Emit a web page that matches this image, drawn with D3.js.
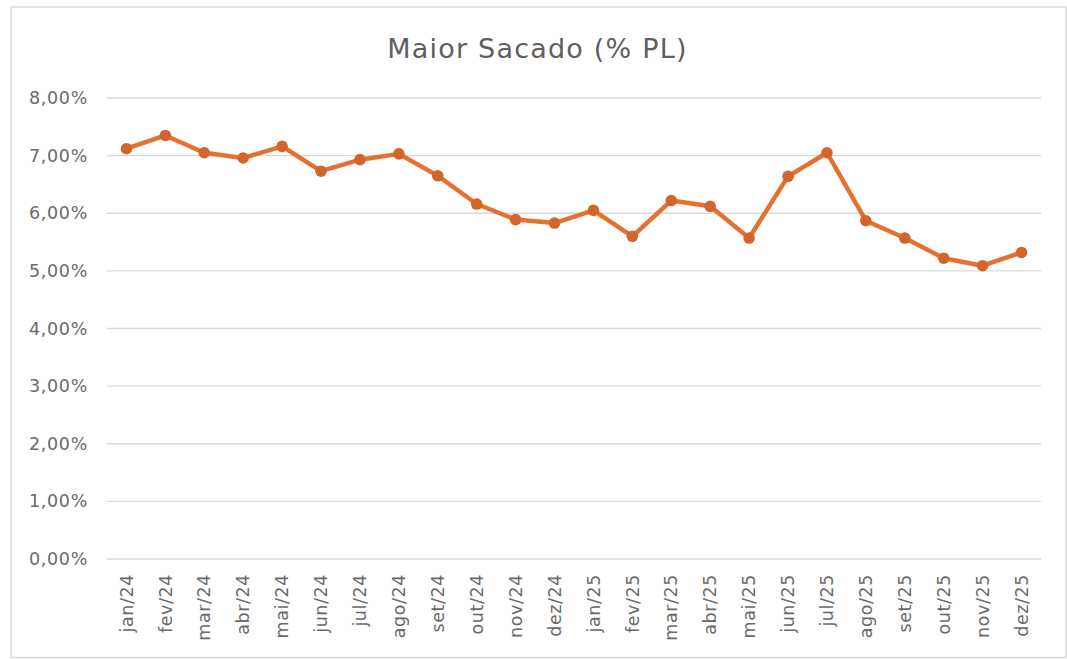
<!DOCTYPE html>
<html>
<head>
<meta charset="utf-8">
<script src="https://cdn.jsdelivr.net/npm/d3@7"></script>
<style>
	html, body { margin: 0; padding: 0; background: #fff; }
	svg { display: block; }
	text { font-family: "DejaVu Sans", sans-serif; fill: #595959; }
</style>
</head>
<body>
<svg id="chart" width="1067" height="659"></svg>
<script>
/* Data */
const months = [
	"jan/24", "fev/24", "mar/24", "abr/24", "mai/24", "jun/24",
	"jul/24", "ago/24", "set/24", "out/24", "nov/24", "dez/24",
	"jan/25", "fev/25", "mar/25", "abr/25", "mai/25", "jun/25",
	"jul/25", "ago/25", "set/25", "out/25", "nov/25", "dez/25"
];
const maiorSacado = [
	7.12, 7.35, 7.05, 6.96, 7.16, 6.73,
	6.93, 7.03, 6.65, 6.16, 5.89, 5.83,
	6.05, 5.60, 6.22, 6.12, 5.57, 6.64,
	7.05, 5.87, 5.57, 5.22, 5.09, 5.32
];
const yTicks = [0, 1, 2, 3, 4, 5, 6, 7, 8];
const title = "Maior Sacado (% PL)";

/* Layout */
const width = 1067;
const height = 659;
const plot = { left: 107, right: 1041, top: 98, bottom: 559 };
const labelFont = "\"DejaVu Sans\", sans-serif";
const labelColor = "#6a6a6a";

const svg = d3.select("#chart");

// outer frame
svg.append("rect")
	.attr("x", 11)
	.attr("y", 7)
	.attr("width", width - 11 - 1)
	.attr("height", height - 7 - 1.5)
	.attr("fill", "#fff")
	.attr("stroke", "#d9d9d9")
	.attr("stroke-width", 1.5);

const xScale = d3.scaleBand()
	.domain(months)
	.range([plot.left, plot.right]);

const yScale = d3.scaleLinear()
	.domain([0, 8])
	.range([plot.bottom, plot.top]);

const fmt = (v) => v.toFixed(2).replace(".", ",") + "%";

// gridlines
svg.append("g")
	.selectAll("line")
	.data(yTicks)
	.join("line")
	.attr("x1", plot.left)
	.attr("x2", plot.right)
	.attr("y1", (d) => yScale(d))
	.attr("y2", (d) => yScale(d))
	.attr("stroke", "#d9d9d9")
	.attr("stroke-width", 1.3);

// y axis labels
const yAxis = svg.append("g")
	.attr("transform", `translate(${plot.left - 19},0)`)
	.call(d3.axisLeft(yScale).tickValues(yTicks).tickFormat(fmt).tickSize(0).tickPadding(0));
yAxis.select(".domain").remove();
yAxis.selectAll("text")
	.attr("font-size", 17.5)
	.attr("letter-spacing", 0.7)
	.attr("font-family", labelFont)
	.style("fill", labelColor);

// x axis labels
const xAxis = svg.append("g")
	.attr("transform", `translate(0,${plot.bottom})`)
	.call(d3.axisBottom(xScale).tickSize(0).tickPadding(0));
xAxis.select(".domain").remove();
xAxis.selectAll("text")
	.attr("font-size", 17.5)
	.attr("letter-spacing", 0.6)
	.attr("font-family", labelFont)
	.style("fill", labelColor)
	.attr("text-anchor", "end")
	.attr("transform", "translate(0,15) rotate(-90)")
	.attr("dx", 0)
	.attr("dy", "0.35em")
	.attr("y", 0)
	.attr("x", 0);

// title
svg.append("text")
	.attr("x", (385 + 690) / 2)
	.attr("y", 58)
	.attr("text-anchor", "middle")
	.attr("font-size", 27)
	.attr("letter-spacing", 1.2)
	.attr("font-family", labelFont)
	.style("fill", "#5f5f5f")
	.text(title);

// line
const cx = (d, i) => xScale(months[i]) + xScale.bandwidth() / 2;
const line = d3.line()
	.x(cx)
	.y((d) => yScale(d));

svg.append("path")
	.datum(maiorSacado)
	.attr("fill", "none")
	.attr("stroke", "#e4712f")
	.attr("stroke-width", 4.5)
	.attr("stroke-linejoin", "round")
	.attr("d", line);

svg.append("g")
	.selectAll("circle")
	.data(maiorSacado)
	.join("circle")
	.attr("cx", cx)
	.attr("cy", (d) => yScale(d))
	.attr("r", 5.8)
	.attr("fill", "#d2652b");
</script>
</body>
</html>
